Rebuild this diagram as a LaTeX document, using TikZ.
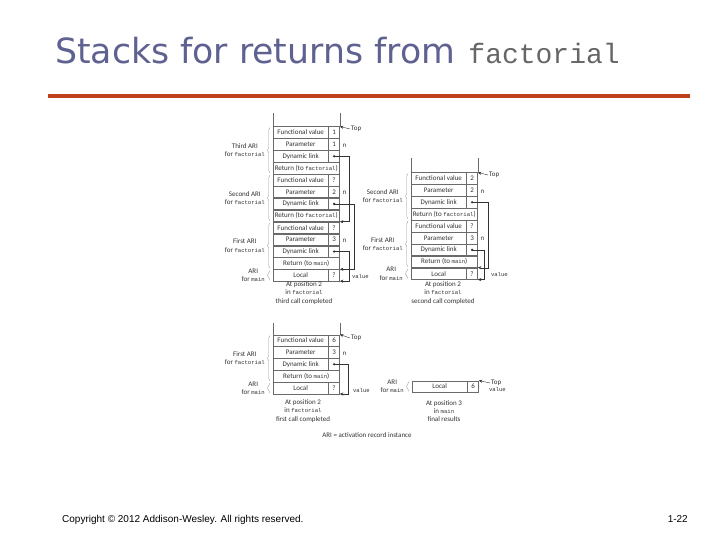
\documentclass[tikz,border=0pt]{standalone}
\usepackage{fontspec}
\setmainfont{Carlito}
\setmonofont{Liberation Mono}
\newfontfamily\titlefont{DejaVu Sans}
\newfontfamily\footfont{Liberation Sans}
\usetikzlibrary{arrows.meta,positioning,decorations.pathreplacing}
\definecolor{slate}{HTML}{5F6190}
\definecolor{rust}{HTML}{C0401C}
\definecolor{ink}{HTML}{333333}
\definecolor{rule}{HTML}{6A6A6A}
\newcommand{\tf}[1]{{\fontsize{5.6}{6}\ttfamily #1}}

\begin{document}
\begin{tikzpicture}[
  x=1pt, y=-1pt,
  every node/.style={font=\fontsize{7}{8.3}\selectfont, text=ink, inner sep=1pt},
  cell/.style={draw=rule, line width=0.4pt, inner sep=0pt, minimum height=11.5pt, anchor=north west},
  lab/.style={cell, minimum width=55pt},
  val/.style={cell, minimum width=11pt},
  ret/.style={cell, minimum width=66pt},
  side/.style={align=center, anchor=east},
  note/.style={align=center},
  open/.style={draw=rule, line width=0.4pt},
  link/.style={draw=ink, line width=0.4pt, -{Stealth[length=3.5pt,width=3pt]}},
  ari/.style={draw=rule!70, line width=0.35pt, decorate, decoration={brace, amplitude=2.5pt}},
]
\fill[white] (0,0) rectangle (720,540);
\useasboundingbox (0,0) rectangle (720,540);

% title and rule
\node[anchor=base west, inner sep=0pt, text=slate, font=\titlefont\fontsize{34.7}{40}\selectfont] (title) at (55,64) {Stacks for returns from};
\node[anchor=base west, inner sep=0pt, text=black!60, font=\ttfamily\fontsize{28}{30}\selectfont] (titlett) at ([xshift=13pt]title.base east) {factorial};
\fill[rust] (48,94) rectangle (690,98.5);

% ─── third call completed ───
\node[lab] (a0) at (273,126.5) {Functional value};
\node[val] (av0) at (a0.north east) {1};
\node[lab] (a1) at (a0.south west) {Parameter};
\node[val] (av1) at (a1.north east) {1};
\node[lab] (a2) at (a1.south west) {Dynamic link};
\node[val] (av2) at (a2.north east) {};
\node[ret] (a3) at (a2.south west) {Return (to \tf{factorial})};
\node[lab] (a4) at (a3.south west) {Functional value};
\node[val] (av4) at (a4.north east) {?};
\node[lab] (a5) at (a4.south west) {Parameter};
\node[val] (av5) at (a5.north east) {2};
\node[lab] (a6) at (a5.south west) {Dynamic link};
\node[val] (av6) at (a6.north east) {};
\node[ret] (a7) at (a6.south west) {Return (to \tf{factorial})};
\node[lab] (a8) at (a7.south west) {Functional value};
\node[val] (av8) at (a8.north east) {?};
\node[lab] (a9) at (a8.south west) {Parameter};
\node[val] (av9) at (a9.north east) {3};
\node[lab] (a10) at (a9.south west) {Dynamic link};
\node[val] (av10) at (a10.north east) {};
\node[ret] (a11) at (a10.south west) {Return (to \tf{main})};
\node[lab] (a12) at (a11.south west) {Local};
\node[val] (av12) at (a12.north east) {?};
\draw[open] (a0.north west) -- ++(0,-13.5) (av0.north east) -- ++(0,-13.5);

\node[anchor=west] (top1) at (350,129) {Top};
\draw[link] (top1.west) -- (av0.north east);
\foreach \p in {av1,av5,av9} \node[right=1.5pt of \p, yshift=-1pt] {n};
\node[right=11pt of av12, yshift=-1pt] {\tf{value}};
\draw[link] (av2.center) -| ([xshift=9pt]av8.north east) -- (av8.north east);
\draw[link] (av6.center) -| ([xshift=14pt]av12.north east) -- (av12.north east);
\draw[link] (av10.center) -| ([xshift=9pt]av12.south east) -- (av12.south east);
\foreach \d in {av2,av6,av10} \fill[ink] (\d) circle (1.3pt);

\draw[ari] ([xshift=-3pt,yshift=1pt]a3.south west) -- ([xshift=-3pt,yshift=-1pt]a0.north west);
\draw[ari] ([xshift=-3pt,yshift=1pt]a7.south west) -- ([xshift=-3pt,yshift=-1pt]a4.north west);
\draw[ari] ([xshift=-3pt,yshift=1pt]a11.south west) -- ([xshift=-3pt,yshift=-1pt]a8.north west);
\draw[ari] ([xshift=-3pt,yshift=1pt]a12.south west) -- ([xshift=-3pt,yshift=-1pt]a12.north west);
\node[side] at ([xshift=-7pt]a1.south west) {Third ARI\\for \tf{factorial}};
\node[side] at ([xshift=-7pt]a5.south west) {Second ARI\\for \tf{factorial}};
\node[side] at ([xshift=-7pt]a9.south west) {First ARI\\for \tf{factorial}};
\node[side] at ([xshift=-7pt]a12.west) {ARI\\for \tf{main}};
\node[note] at (304,293) {At position 2\\in \tf{factorial}\\third call completed};

% ─── second call completed ───
\node[lab] (b0) at (411,172.5) {Functional value};
\node[val] (bv0) at (b0.north east) {2};
\node[lab] (b1) at (b0.south west) {Parameter};
\node[val] (bv1) at (b1.north east) {2};
\node[lab] (b2) at (b1.south west) {Dynamic link};
\node[val] (bv2) at (b2.north east) {};
\node[ret] (b3) at (b2.south west) {Return (to \tf{factorial})};
\node[lab] (b4) at (b3.south west) {Functional value};
\node[val] (bv4) at (b4.north east) {?};
\node[lab] (b5) at (b4.south west) {Parameter};
\node[val] (bv5) at (b5.north east) {3};
\node[lab] (b6) at (b5.south west) {Dynamic link};
\node[val] (bv6) at (b6.north east) {};
\node[ret] (b7) at (b6.south west) {Return (to \tf{main})};
\node[lab] (b8) at (b7.south west) {Local};
\node[val] (bv8) at (b8.north east) {?};
\draw[open] (b0.north west) -- ++(0,-14.5) (bv0.north east) -- ++(0,-14.5);

\node[anchor=west] (top2) at (488,175) {Top};
\draw[link] (top2.west) -- (bv0.north east);
\foreach \p in {bv1,bv5} \node[right=1.5pt of \p, yshift=-1pt] {n};
\node[right=12pt of bv8, yshift=-1pt] {\tf{value}};
\draw[link] (bv2.center) -| ([xshift=10pt]bv8.north east) -- (bv8.north east);
\draw[link] (bv6.center) -| ([xshift=6pt]bv8.south east) -- (bv8.south east);
\foreach \d in {bv2,bv6} \fill[ink] (\d) circle (1.3pt);

\draw[ari] ([xshift=-3pt,yshift=1pt]b3.south west) -- ([xshift=-3pt,yshift=-1pt]b0.north west);
\draw[ari] ([xshift=-3pt,yshift=1pt]b7.south west) -- ([xshift=-3pt,yshift=-1pt]b4.north west);
\draw[ari] ([xshift=-3pt,yshift=1pt]b8.south west) -- ([xshift=-3pt,yshift=-1pt]b8.north west);
\node[side] at ([xshift=-7pt]b1.south west) {Second ARI\\for \tf{factorial}};
\node[side] at ([xshift=-7pt]b5.south west) {First ARI\\for \tf{factorial}};
\node[side] at ([xshift=-7pt]b8.west) {ARI\\for \tf{main}};
\node[note] at (443,293) {At position 2\\in \tf{factorial}\\second call completed};

% ─── first call completed ───
\node[lab] (c0) at (273,334.5) {Functional value};
\node[val] (cv0) at (c0.north east) {6};
\node[lab] (c1) at (c0.south west) {Parameter};
\node[val] (cv1) at (c1.north east) {3};
\node[lab] (c2) at (c1.south west) {Dynamic link};
\node[val] (cv2) at (c2.north east) {};
\node[ret] (c3) at (c2.south west) {Return (to \tf{main})};
\node[lab] (c4) at (c3.south west) {Local};
\node[val] (cv4) at (c4.north east) {?};
\draw[open] (c0.north west) -- ++(0,-12) (cv0.north east) -- ++(0,-12);

\node[anchor=west] (top3) at (350,338) {Top};
\draw[link] (top3.west) -- (cv0.north east);
\node[right=1.5pt of cv1, yshift=-1pt] {n};
\node[right=12pt of cv4, yshift=-2pt] {\tf{value}};
\draw[link] (cv2.center) -| ([xshift=8pt]cv4.south east) -- (cv4.south east);
\fill[ink] (cv2) circle (1.3pt);

\draw[ari] ([xshift=-3pt,yshift=1pt]c3.south west) -- ([xshift=-3pt,yshift=-1pt]c0.north west);
\draw[ari] ([xshift=-3pt,yshift=1pt]c4.south west) -- ([xshift=-3pt,yshift=-1pt]c4.north west);
\node[side] at ([xshift=-7pt]c1.south west) {First ARI\\for \tf{factorial}};
\node[side] at ([xshift=-7pt]c4.west) {ARI\\for \tf{main}};
\node[note] at (303,411) {At position 2\\in \tf{factorial}\\first call completed};

% ─── final results ───
\node[lab] (d0) at (412,380.5) {Local};
\node[val] (dv0) at (d0.north east) {6};
\node[anchor=west] (top4) at (490,383) {Top};
\draw[link] (top4.west) -- (dv0.north east);
\node[right=9pt of dv0, yshift=-3pt] {\tf{value}};
\draw[ari] ([xshift=-3pt,yshift=1pt]d0.south west) -- ([xshift=-3pt,yshift=-1pt]d0.north west);
\node[side] at ([xshift=-7pt]d0.west) {ARI\\for \tf{main}};
\node[note] at (444,411) {At position 3\\in \tf{main}\\final results};

\node[note] at (367,435) {ARI = activation record instance};

% footer
\node[anchor=base west, inner sep=0pt, text=black, font=\footfont\fontsize{10}{11}\selectfont] (copy) at (62,522) {Copyright © 2012 Addison-Wesley. All rights reserved.};
\node[anchor=base east, inner sep=0pt, text=black, font=\footfont\fontsize{10}{11}\selectfont] (page) at (688,522) {1-22};
\end{tikzpicture}
\end{document}
